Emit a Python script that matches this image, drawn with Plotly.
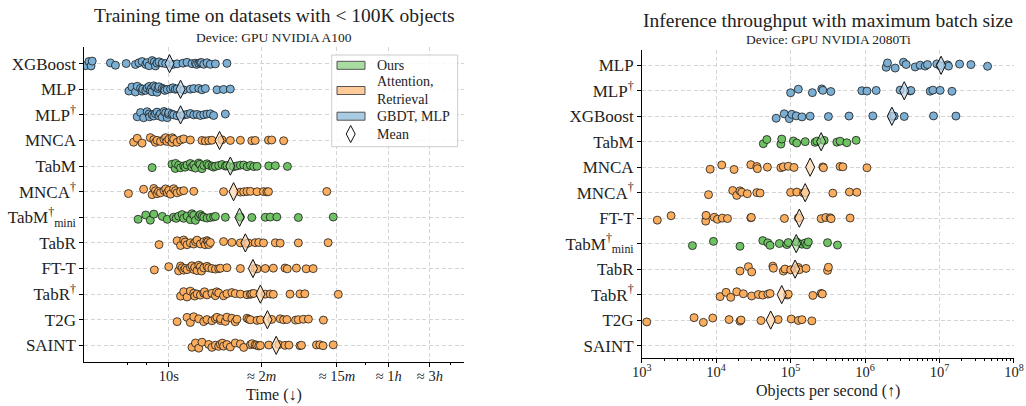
import plotly.graph_objects as go

W, H = 1026, 406
FONT = "Liberation Serif"

GREEN = "#6fc264"
ORANGE = "#fbad5e"
BLUE = "#7bafd4"
FILL = {GREEN: "rgba(160,215,150,0.55)", ORANGE: "rgba(253,215,175,0.75)", BLUE: "rgba(190,215,235,0.75)"}

# ---------------- left panel: training time (seconds) ----------------
train_categories = ["XGBoost", "MLP", "MLP<sup>†</sup>", "MNCA", "TabM", "MNCA<sup>†</sup>",
                    "TabM<sup>†</sup><sub>mini</sub>", "TabR", "FT-T", "TabR<sup>†</sup>", "T2G", "SAINT"]
train_groups = [BLUE, BLUE, BLUE, ORANGE, GREEN, ORANGE, GREEN, ORANGE, ORANGE, ORANGE, ORANGE, ORANGE]

train_xgboost = [1.08, 1.18, 1.29, 1.25, 2.1, 2.4, 3.2, 4.1, 4.5, 4.9, 5.4, 5.9, 6.4, 7.0, 7.7, 8.4, 9.2,
                 5.6, 6.8, 7.3, 11.2, 12.5, 14.6, 16.3, 18.6, 20.4, 22.3, 23.3, 25.5, 27.8, 30.4, 34.8, 47.4,
                 21.0, 24.0]
train_mlp = [3.44, 3.73, 4.1, 4.3, 4.7, 4.9, 5.4, 5.6, 5.9, 6.1, 6.4, 6.7, 7.0, 7.3, 7.7, 8.4, 8.8, 9.6,
             10.5, 11.2, 11.9, 12.5, 14.9, 17.8, 19.5, 22.3, 24.3, 26.6, 36.3, 43.3, 51.9, 5.0, 6.3, 7.5, 9.0]
train_mlp_dag = [4.3, 4.7, 5.1, 5.6, 5.9, 6.4, 6.7, 7.3, 7.7, 8.4, 8.8, 9.2, 9.6, 10, 10.9, 11.4, 12.5,
                 14.9, 16.3, 17.8, 19.5, 21.3, 23.3, 25.5, 27.8, 30.4, 33.2, 45.4, 6.0, 7.0, 8.0, 9.9]
train_mnca = [3.9, 4.3, 4.9, 6.1, 6.7, 7.3, 8.0, 8.8, 9.2, 10, 10.9, 11.4, 12.5, 13.7, 14.9, 17.8, 24.3,
              26.6, 29.1, 31.7, 41.5, 51.9, 67.9, 92.2, 101, 144, 157, 216, 7.0, 9.5, 11.0]
train_tabm = [6.4, 10.9, 11.9, 13.0, 13.7, 14.9, 16.3, 17.8, 19.5, 20.4, 22.3, 24.3, 25.5, 27.8, 29.1,
              31.7, 34.8, 38, 41.5, 45.4, 47.4, 56.6, 61.9, 67.9, 74.2, 81.2, 88.8, 97.1, 106, 145, 173, 239,
              12.0, 15.5, 18.5, 23.0, 33.0]
train_mnca_dag = [3.4, 5.1, 6.4, 6.7, 7.0, 7.3, 8.0, 8.8, 9.2, 10, 10.5, 11.4, 12.5, 13.7, 14.9, 19.5,
                  43.3, 67.9, 74.2, 81.2, 88.8, 106, 126, 138, 144, 685, 7.6, 9.6, 12.0]
train_tabm_mini = [4.4, 5.4, 6.1, 6.7, 8.4, 9.6, 11.4, 13.0, 14.3, 14.9, 16.3, 17.8, 18.6, 20.4, 22.3,
                   23.3, 25.5, 27.8, 30.4, 33.2, 34.8, 45.4, 67.9, 92.2, 132, 151, 180, 320, 815,
                   12.2, 19.5, 24.4]
train_tabr = [7.7, 12.5, 13.7, 14.9, 16.3, 17.8, 19.5, 21.3, 23.3, 25.5, 27.8, 29.1, 30.4, 43.3, 54.1,
              67.9, 84.3, 101, 111, 126, 173, 197, 320, 710, 15.5, 20.5, 26.5, 28.5, 80.0]
train_ftt = [6.8, 10, 13, 13.7, 14.3, 14.9, 16.3, 17.8, 18.6, 19.5, 21.3, 22.3, 23.3, 25.5, 27.8, 29.1,
             31.7, 34.8, 38, 39.8, 47.4, 67.9, 106, 132, 164, 224, 238, 304, 395, 476, 15.5, 20.0, 24.0, 100]
train_tabr_dag = [13.7, 14.9, 16.3, 17.8, 19.5, 21.3, 23.3, 25.5, 27.8, 31.7, 34.8, 38, 43.3, 47.4, 54.1,
                  59.2, 67.9, 81.2, 88.8, 97.1, 132, 151, 164, 256, 334, 381, 932, 20.0, 26.0, 36.0, 92.0]
train_t2g = [12.5, 16.3, 17.8, 19.5, 22.3, 25.5, 27.8, 31.7, 34.8, 36.3, 39.8, 45.4, 47.4, 54.1, 59.2,
             61.9, 81.2, 88.8, 106, 116, 157, 197, 216, 236, 297, 320, 366, 419, 626, 40.0, 85.0]
train_saint = [18.6, 20.4, 22.3, 24.3, 29.1, 31.7, 34.8, 38, 39.8, 43.3, 47.4, 51.9, 59.2, 67.9, 74.2,
               88.8, 92.7, 101, 111, 116, 145, 190, 224, 249, 334, 348, 520, 568, 620, 815, 42.0, 105]
train_values = [train_xgboost, train_mlp, train_mlp_dag, train_mnca, train_tabm, train_mnca_dag,
                train_tabm_mini, train_tabr, train_ftt, train_tabr_dag, train_t2g, train_saint]
train_means = [10.2, 13.7, 13.7, 38.9, 51.9, 56.6, 66.4, 77.6, 95, 116, 140, 177]

train_tickvals = [10, 120, 900, 3600, 10800]
train_ticktext = ["10s", "≈ 2<i>m</i>", "≈ 15<i>m</i>", "≈ 1<i>h</i>", "≈ 3<i>h</i>"]
train_minor_ticks = [3.3, 5.5, 1950, 18900]

# ---------------- right panel: inference throughput (objects / s) ----------------
inf_categories = ["MLP", "MLP<sup>†</sup>", "XGBoost", "TabM", "MNCA", "MNCA<sup>†</sup>", "FT-T",
                  "TabM<sup>†</sup><sub>mini</sub>", "TabR", "TabR<sup>†</sup>", "T2G", "SAINT"]
inf_groups = [BLUE, BLUE, BLUE, GREEN, ORANGE, ORANGE, ORANGE, GREEN, ORANGE, ORANGE, ORANGE, ORANGE]

inf_mlp = [1.92e6, 2.0e6, 2.54e6, 3.28e6, 3.56e6, 4.71e6, 5.5e6, 6.41e6, 6.89e6, 9.2e6, 1.02e7, 1.28e7,
           1.32e7, 1.86e7, 2.64e7, 4.42e7]
inf_mlp_dag = [1.0e5, 1.27e5, 1.96e5, 2.62e5, 2.71e5, 3.47e5, 9.06e5, 1.06e6, 1.41e6, 2.96e6, 4.04e6,
               4.13e6, 7.5e6, 8.15e6, 1.02e7, 1.47e7]
inf_xgboost = [6.4e4, 8.2e4, 9.6e4, 1.04e5, 1.19e5, 1.42e5, 1.83e5, 3.22e5, 6.1e5, 1.27e6, 2.29e6,
               2.46e6, 3.36e6, 8.3e6, 1.66e7]
inf_tabm = [4.3e4, 4.8e4, 7.4e4, 7.6e4, 1.09e5, 1.21e5, 1.57e5, 2.13e5, 2.25e5, 2.82e5, 4.18e5, 4.62e5,
            5.69e5, 7.59e5]
inf_mnca = [8.3e3, 1.19e4, 1.74e4, 2.92e4, 3.52e4, 3.58e4, 4.88e4, 7.4e4, 8.0e4, 9.3e4, 1.11e5, 2.71e5,
            2.76e5, 4.62e5, 5.04e5, 1.06e6]
inf_mnca_dag = [7.9e3, 1.67e4, 1.89e4, 2.09e4, 2.21e4, 2.62e4, 3.52e4, 3.89e4, 1.0e5, 1.21e5, 1.49e5,
                1.57e5, 3.69e5, 6.17e5, 7.76e5]
inf_ftt = [1.62e3, 2.48e3, 7.24e3, 7.31e3, 9.4e3, 1.04e4, 1.21e4, 1.42e4, 2.92e4, 2.97e4, 8.26e4, 1.27e5,
           2.57e5, 2.97e5, 3.4e5, 3.5e5, 6.3e5]
inf_tabm_mini = [4.8e3, 9.2e3, 2.09e4, 4.23e4, 4.94e4, 5.3e4, 7.06e4, 8.9e4, 9.3e4, 1.21e5, 1.42e5,
                 1.57e5, 1.65e5, 1.73e5, 3.13e5, 4.26e5]
inf_tabr = [2.09e4, 2.71e4, 3.0e4, 5.77e4, 5.87e4, 8.0e4, 8.4e4, 1.0e5, 1.21e5, 1.27e5, 1.31e5, 1.61e5,
            3.13e5, 3.22e5]
inf_tabr_dag = [1.13e4, 1.36e4, 1.57e4, 1.89e4, 2.32e4, 3.0e4, 3.69e4, 4.23e4, 4.94e4, 5.3e4, 9.06e4,
                9.3e4, 1.99e5, 2.57e5, 2.67e5]
inf_t2g = [1.17e3, 5.05e3, 6.73e3, 9.0e3, 1.49e4, 2.09e4, 2.16e4, 4.0e4, 6.8e4, 1.02e5, 1.27e5, 1.42e5,
           1.93e5]
inf_saint = []
inf_values = [inf_mlp, inf_mlp_dag, inf_xgboost, inf_tabm, inf_mnca, inf_mnca_dag, inf_ftt, inf_tabm_mini,
              inf_tabr, inf_tabr_dag, inf_t2g, inf_saint]
inf_means = [1.05e7, 3.36e6, 2.29e6, 2.57e5, 1.83e5, 1.57e5, 1.31e5, 1.19e5, 1.15e5, 7.6e4, 5.4e4, None]
inf_tickvals = [1e3, 1e4, 1e5, 1e6, 1e7, 1e8]
inf_ticktext = ["10<sup>3</sup>", "10<sup>4</sup>", "10<sup>5</sup>", "10<sup>6</sup>", "10<sup>7</sup>",
                "10<sup>8</sup>"]


def px(x):
    return x / W


def py(y):
    return 1 - y / H


fig = go.Figure()


def add_panel(cats, groups, values, means, xa, ya):
    for i, (vals, col) in enumerate(zip(values, groups)):
        if not vals:
            continue
        fig.add_trace(go.Box(
            x=vals, y=[i] * len(vals), orientation="h", boxpoints="all", jitter=0.5, pointpos=0,
            width=0.6, fillcolor="rgba(0,0,0,0)", line=dict(width=0, color="rgba(0,0,0,0)"),
            marker=dict(color=col, size=8, opacity=1, line=dict(color="#1a1a1a", width=0.8)),
            xaxis=xa, yaxis=ya, showlegend=False, hoverinfo="x"))
    for i, (m, col) in enumerate(zip(means, groups)):
        if m is None:
            continue
        fig.add_trace(go.Scatter(
            x=[m], y=[i], mode="markers", xaxis=xa, yaxis=ya, showlegend=False,
            marker=dict(symbol="diamond-tall", size=13, color=FILL[col],
                        line=dict(color="#111111", width=1))))


add_panel(train_categories, train_groups, train_values, train_means, "x", "y")
add_panel(inf_categories, inf_groups, inf_values, inf_means, "x2", "y2")

grid = dict(showgrid=True, gridcolor="#d4d4d4", griddash="4px,2.5px", gridwidth=0.8)
axis_line = dict(showline=True, linecolor="black", linewidth=1.3, ticks="outside", ticklen=3.5,
                 tickcolor="black", tickwidth=1, zeroline=False, automargin=False)

fig.update_layout(
    width=W, height=H, margin=dict(l=0, r=0, t=0, b=0),
    paper_bgcolor="white", plot_bgcolor="white", boxmode="overlay",
    font=dict(family=FONT, color="#222222"),
    xaxis=dict(type="log", range=[0.015, 4.43], domain=[px(84), px(464)], anchor="y",
               tickmode="array", tickvals=train_tickvals, ticktext=train_ticktext,
               minor=dict(tickmode="array", tickvals=train_minor_ticks, ticks="outside", ticklen=2,
                          tickcolor="black", showgrid=False),
               tickfont=dict(size=14.5), ticklabelstandoff=-3,
               **grid, **axis_line),
    yaxis=dict(range=[11.65, -0.65], domain=[py(362), py(47)], anchor="x",
               tickmode="array", tickvals=list(range(len(train_categories))), ticktext=train_categories,
               tickfont=dict(size=17), **grid, **axis_line),
    xaxis2=dict(type="log", range=[3, 8.0005], domain=[px(641.7), px(1014)], anchor="y2",
                tickmode="array", tickvals=inf_tickvals, ticktext=inf_ticktext,
                minor=dict(ticks="outside", ticklen=2, tickcolor="black", dtick="D1", showgrid=False),
                tickfont=dict(size=14.5), ticklabelstandoff=-3,
                **grid, **axis_line),
    yaxis2=dict(range=[11.5, -0.6], domain=[py(358.3), py(50)], anchor="x2",
                tickmode="array", tickvals=list(range(len(inf_categories))), ticktext=inf_categories,
                tickfont=dict(size=17), **grid, **axis_line),
)

# titles and axis titles
ann = [
    dict(text="Training time on datasets with &lt; 100K objects", x=px(274), y=py(16), size=19.5),
    dict(text="Device: GPU NVIDIA A100", x=px(274), y=py(37.5), size=13.5),
    dict(text="Inference throughput with maximum batch size", x=px(828), y=py(21), size=19.5),
    dict(text="Device: GPU NVIDIA 2080Ti", x=px(828), y=py(40), size=13.5),
    dict(text="Time (↓)", x=px(274), y=py(395), size=16),
    dict(text="Objects per second (↑)", x=px(828), y=py(391), size=16),
]
for a in ann:
    fig.add_annotation(text=a["text"], x=a["x"], y=a["y"], xref="paper", yref="paper",
                       showarrow=False, xanchor="center", yanchor="middle",
                       font=dict(size=a["size"], family=FONT, color="#222222"))

# legend (drawn manually)
fig.add_shape(type="rect", xref="paper", yref="paper", x0=px(331.7), x1=px(457.7), y0=py(146.7), y1=py(55),
              line=dict(color="#cccccc", width=1), fillcolor="rgba(255,255,255,0.85)", layer="above")
legend_items = [(GREEN, "Ours", 65.3), (ORANGE, "Attention,<br>Retrieval", 90.5), (BLUE, "GBDT, MLP", 116.2)]
patch_fill = {GREEN: "#a8dca0", ORANGE: "#fecb98", BLUE: "#a9cce4"}
for col, label, yc in legend_items:
    fig.add_shape(type="rect", xref="paper", yref="paper", x0=px(337), x1=px(365), y0=py(yc + 4), y1=py(yc - 4),
                  line=dict(color="#555555", width=1), fillcolor=patch_fill[col], layer="above")
    fig.add_annotation(text=label, x=px(375), y=py(yc), xref="paper", yref="paper", showarrow=False,
                       xanchor="left", yanchor="middle", align="left",
                       font=dict(size=14, family=FONT, color="#222222"))
dx, dy, cx, cy = 4.5, 8.5, 350.7, 134
fig.add_shape(type="path", xref="paper", yref="paper", layer="above",
              path=f"M{px(cx)},{py(cy - dy)} L{px(cx + dx)},{py(cy)} L{px(cx)},{py(cy + dy)} L{px(cx - dx)},{py(cy)} Z",
              line=dict(color="#111111", width=1), fillcolor="white")
fig.add_annotation(text="Mean", x=px(375), y=py(134.5), xref="paper", yref="paper", showarrow=False,
                   xanchor="left", yanchor="middle", font=dict(size=14, family=FONT, color="#222222"))

fig.write_html("out.html")
